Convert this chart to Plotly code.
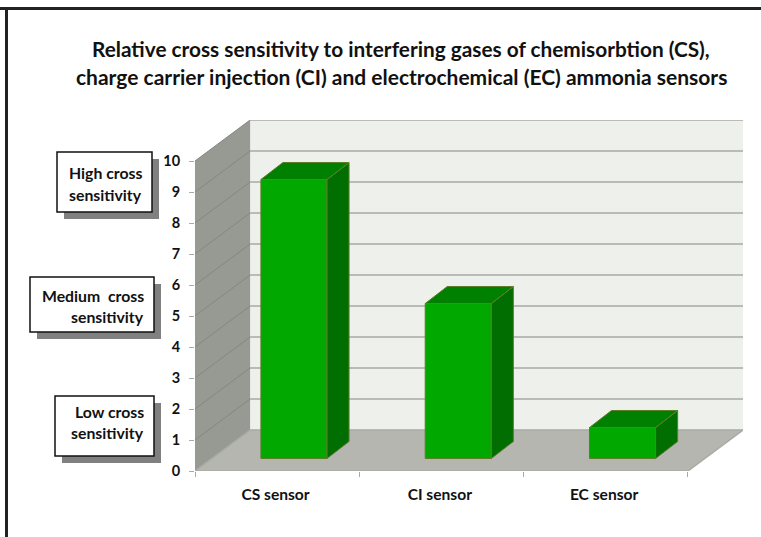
import plotly.graph_objects as go

W, H = 761, 537
categories = ["CS sensor", "CI sensor", "EC sensor"]
values = [9, 5, 1]
y_ticks = list(range(0, 11))
title_lines = ["Relative cross sensitivity to interfering gases of chemisorbtion (CS),",
               "charge carrier injection (CI) and electrochemical (EC) ammonia sensors"]
box_labels = [("High cross", "sensitivity"), ("Medium  cross", "sensitivity"), ("Low cross", "sensitivity")]

# plot-area geometry (pixels)
L, R, T, B = 195, 743, 120, 471
UX, UY = 164.0, 31.0               # pixels per category / per value
DX, DY = 55 / UX, 41 / UY          # floor depth in data units
BAR_W = 66 / UX
BAR_FRONT = 0.305                  # depth fraction of bars' front face
BDX, BDY = 22 / UX, 17 / UY        # bar depth
FONT = "Lato"
n = len(categories)

def poly(pts):
    return "M" + " L".join(f"{x},{y}" for x, y in pts) + " Z"

def dshape(pts, fill, line="rgba(0,0,0,0)", width=1):
    return dict(type="path", xref="x", yref="y", layer="below", path=poly(pts),
                fillcolor=fill, line=dict(color=line, width=width))

def dline(x0, y0, x1, y1, color, width=1.5):
    return dict(type="line", xref="x", yref="y", layer="below", x0=x0, y0=y0, x1=x1, y1=y1,
                line=dict(color=color, width=width))

def px(x): return (x - L) / (R - L)
def py(y): return (B - y) / (B - T)

def prect(x0, y0, x1, y1, fill, line=None, width=0):
    return dict(type="rect", xref="paper", yref="paper", layer="above",
                x0=px(x0), x1=px(x1), y0=py(y1), y1=py(y0), fillcolor=fill,
                line=dict(color=line or "rgba(0,0,0,0)", width=width))

top = max(y_ticks)
shapes = [
    dshape([(DX, DY), (n + DX, DY), (n + DX, top + DY), (DX, top + DY)], "#EEF0EB"),
    dshape([(0, 0), (DX, DY), (DX, top + DY), (0, top)], "#979993"),
    dshape([(0, 0), (n, 0), (n + DX, DY), (DX, DY)], "#B4B6AF"),
]
for v in y_ticks[1:]:
    shapes.append(dline(DX, v + DY, n + DX, v + DY, "#A8AAA4"))
    shapes.append(dline(0, v, DX, v + DY, "#85877F", 1))
shapes.append(dline(0, 0, n, 0, "#A8AAA4"))
shapes.append(dline(n, 0, n + DX, DY, "#A8AAA4"))
shapes.append(dline(0, 0, DX, DY, "#A8AAA4"))
shapes.append(dline(DX, DY, n + DX, DY, "#A8AAA4"))

# page frame
shapes.append(prect(0, 7, W, 10, "#222222"))
shapes.append(prect(5, 7, 8, H, "#222222"))

# text boxes with drop shadows
boxes = [(57, 152, 152, 212, 173), (30, 277, 154, 332, 295), (55, 396, 154, 456, 411)]
annotations = []
for (x0, y0, x1, y1, ty), lines in zip(boxes, box_labels):
    shapes.append(prect(x0 + 7, y0 + 7, x1 + 7, y1 + 7, "#808080"))
    shapes.append(prect(x0, y0, x1, y1, "#FFFFFF", "#111111", 1.5))
    for i, t in enumerate(lines):
        annotations.append(dict(xref="paper", yref="paper", x=px(x1 - 8), y=py(ty + 21 * i),
                                text=f"<b>{t}</b>", showarrow=False, xanchor="right", yanchor="middle",
                                font=dict(family=FONT, size=15.8, color="#111111")))
for t, cx, cy, fs in zip(title_lines, (401, 401), (48, 76), (20.8, 21)):
    annotations.append(dict(xref="paper", yref="paper", x=px(cx), y=py(cy), text=f"<b>{t}</b>",
                            showarrow=False, xanchor="center", yanchor="middle",
                            font=dict(family=FONT, size=fs, color="#111111")))

bar_x = [i + 0.5 + BAR_FRONT * DX for i in range(n)]
bar_base = BAR_FRONT * DY
EDGE = "#5E7F2A"

fig = go.Figure()
fig.add_trace(go.Bar(x=bar_x, y=values, base=[bar_base] * n, width=[BAR_W] * n,
                     marker=dict(color="#00A800", line=dict(color=EDGE, width=1)), hoverinfo="skip"))
for cx, v in zip(bar_x, values):
    xl, xr = cx - BAR_W / 2, cx + BAR_W / 2
    yb, yt = bar_base, bar_base + v
    fig.add_trace(go.Scatter(x=[xr, xr + BDX, xr + BDX, xr, xr], y=[yb, yb + BDY, yt + BDY, yt, yb],
                             mode="lines", fill="toself", fillcolor="#006E00",
                             line=dict(color=EDGE, width=1), hoverinfo="skip"))
    fig.add_trace(go.Scatter(x=[xl, xr, xr + BDX, xl + BDX, xl], y=[yt, yt, yt + BDY, yt + BDY, yt],
                             mode="lines", fill="toself", fillcolor="#008000",
                             line=dict(color=EDGE, width=1), hoverinfo="skip"))

fig.update_layout(
    width=W, height=H, autosize=False, showlegend=False,
    margin=dict(l=L, r=W - R, t=T, b=H - B), paper_bgcolor="#FFFFFF", plot_bgcolor="rgba(0,0,0,0)",
    shapes=shapes, annotations=annotations,
    xaxis=dict(range=[0, n + DX], showgrid=False, zeroline=False, showline=False,
               tickmode="array", tickvals=[i + 0.49 for i in range(n)],
               ticktext=[f"<b>{c}</b>" for c in categories], ticks="", ticklabelstandoff=12,
               tickfont=dict(family=FONT, size=15.6, color="#111111"),
               minor=dict(tickmode="array", tickvals=list(range(n + 1)), ticks="outside",
                          ticklen=5, tickcolor="#A8AAA4", showgrid=False)),
    yaxis=dict(range=[0, top + DY], showgrid=False, zeroline=False, showline=False,
               tickmode="array", tickvals=y_ticks, ticktext=[f"<b>{v}</b>" for v in y_ticks],
               ticks="outside", ticklen=5, tickcolor="#A8AAA4", ticklabelstandoff=6,
               tickfont=dict(family=FONT, size=14.5, color="#111111")),
)
fig.write_html("out.html", config={"displayModeBar": False},
               post_script="document.body.style.margin='0';document.documentElement.style.overflow='hidden';")
